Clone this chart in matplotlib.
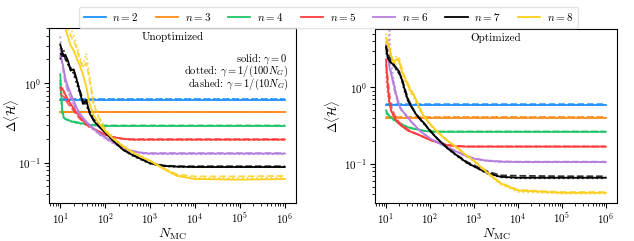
import matplotlib
matplotlib.use('Agg')
import matplotlib.pyplot as plt
from matplotlib.lines import Line2D

# serif look with computer modern maths
plt.rcParams['font.family'] = 'serif'
plt.rcParams['font.serif'] = ['cmr10', 'DejaVu Serif']
plt.rcParams['mathtext.fontset'] = 'cm'
plt.rcParams['axes.formatter.use_mathtext'] = True
plt.rcParams['axes.unicode_minus'] = False

# number of Monte Carlo samples (shared x grid for every curve)
nmc = [10, 11, 12, 13, 15, 17, 20, 23, 27, 32, 38, 45, 55, 70, 100,
       150, 250, 400, 700, 1000, 2000, 4000, 1e4, 1e5, 1e6]

n_values = [2, 3, 4, 5, 6, 7, 8]
colors = ['#1E90FF', '#FF8C1A', '#22C468', '#FF3B3B', '#B57EDC', 'black', '#FCCF1E']

# ---- Unoptimized panel ----
unopt_solid = {
    2: [0.625]*25,
    3: [0.43]*25,
    4: [1.3, 0.48, 0.37, 0.355, 0.345, 0.335, 0.325, 0.32, 0.315, 0.31, 0.305, 0.3, 0.297,
        0.293, 0.29, 0.29, 0.29, 0.29, 0.29, 0.29, 0.29, 0.29, 0.29, 0.29, 0.29],
    5: [0.88, 0.85, 0.8, 0.72, 0.62, 0.55, 0.48, 0.43, 0.38, 0.34, 0.31, 0.29, 0.27, 0.25,
        0.225, 0.21, 0.2, 0.195, 0.195, 0.195, 0.195, 0.195, 0.195, 0.195, 0.195],
    6: [2.2, 1.9, 1.5, 1.15, 0.9, 0.75, 0.6, 0.5, 0.42, 0.37, 0.33, 0.3, 0.27, 0.24, 0.21,
        0.18, 0.155, 0.14, 0.132, 0.13, 0.13, 0.13, 0.13, 0.13, 0.13],
    7: [3.1, 2.5, 2.2, 2.3, 1.9, 1.45, 1.5, 1.15, 0.8, 0.55, 0.62, 0.42, 0.34, 0.29, 0.24,
        0.19, 0.145, 0.125, 0.108, 0.098, 0.091, 0.089, 0.088, 0.088, 0.088],
    8: [7.0, 6.5, 5.8, 5.0, 3.8, 3.0, 2.6, 2.1, 1.7, 1.3, 0.9, 0.55, 0.4, 0.32, 0.25, 0.2,
        0.16, 0.135, 0.115, 0.105, 0.083, 0.068, 0.062, 0.061, 0.062],
}
unopt_dotted = {
    2: [0.63]*25,
    3: [0.435]*25,
    4: [1.0, 0.42, 0.36, 0.35, 0.34, 0.33, 0.32, 0.315, 0.31, 0.305, 0.3, 0.298, 0.295,
        0.29, 0.29, 0.29, 0.29, 0.29, 0.29, 0.29, 0.29, 0.29, 0.29, 0.29, 0.29],
    5: [0.8, 0.9, 0.75, 0.65, 0.58, 0.52, 0.47, 0.42, 0.37, 0.33, 0.3, 0.28, 0.265, 0.245,
        0.222, 0.208, 0.198, 0.193, 0.193, 0.193, 0.193, 0.193, 0.193, 0.193, 0.193],
    6: [3.9, 2.0, 1.4, 1.05, 0.8, 0.65, 0.52, 0.45, 0.4, 0.36, 0.32, 0.29, 0.26, 0.23, 0.2,
        0.175, 0.15, 0.137, 0.13, 0.128, 0.128, 0.128, 0.128, 0.128, 0.128],
    7: [2.0, 2.8, 2.6, 2.1, 1.7, 1.6, 1.3, 1.0, 0.75, 0.6, 0.52, 0.44, 0.36, 0.3, 0.24,
        0.19, 0.145, 0.123, 0.106, 0.097, 0.09, 0.088, 0.088, 0.088, 0.088],
    8: [9.0, 9.0, 8.0, 7.0, 7.0, 5.0, 4.0, 3.0, 2.2, 1.6, 2.4, 1.2, 0.6, 0.4, 0.27, 0.21,
        0.165, 0.137, 0.117, 0.106, 0.084, 0.069, 0.064, 0.064, 0.065],
}
unopt_dashed = {
    2: [0.635]*25,
    3: [0.44]*25,
    4: [1.1, 0.45, 0.37, 0.355, 0.345, 0.335, 0.33, 0.325, 0.32, 0.315, 0.31, 0.305, 0.3,
        0.297, 0.295, 0.295, 0.295, 0.295, 0.295, 0.295, 0.295, 0.295, 0.295, 0.295, 0.295],
    5: [0.75, 0.7, 0.68, 0.62, 0.55, 0.5, 0.45, 0.4, 0.36, 0.33, 0.3, 0.28, 0.265, 0.248,
        0.226, 0.21, 0.2, 0.198, 0.198, 0.198, 0.198, 0.198, 0.198, 0.198, 0.198],
    6: [2.8, 1.8, 1.3, 1.0, 0.78, 0.66, 0.54, 0.46, 0.4, 0.36, 0.32, 0.29, 0.265, 0.235,
        0.205, 0.178, 0.153, 0.14, 0.133, 0.132, 0.132, 0.132, 0.132, 0.132, 0.132],
    7: [2.4, 2.2, 2.4, 2.0, 1.8, 1.5, 1.4, 1.1, 0.85, 0.6, 0.55, 0.44, 0.35, 0.3, 0.24,
        0.19, 0.147, 0.126, 0.109, 0.099, 0.092, 0.09, 0.09, 0.09, 0.09],
    8: [8.0, 7.0, 6.0, 6.5, 5.0, 4.0, 3.4, 2.8, 2.0, 1.6, 1.8, 1.1, 0.55, 0.38, 0.26, 0.205,
        0.162, 0.136, 0.116, 0.106, 0.085, 0.071, 0.067, 0.067, 0.068],
}

# ---- Optimized panel ----
opt_solid = {
    2: [0.585]*25,
    3: [0.40]*25,
    4: [0.5, 0.45, 0.42, 0.4, 0.38, 0.36, 0.34, 0.325, 0.31, 0.3, 0.29, 0.285, 0.28, 0.27,
        0.265, 0.262, 0.262, 0.262, 0.262, 0.262, 0.262, 0.262, 0.262, 0.262, 0.262],
    5: [2.3, 1.0, 0.62, 0.5, 0.42, 0.37, 0.33, 0.31, 0.29, 0.27, 0.26, 0.25, 0.24, 0.225,
        0.205, 0.19, 0.175, 0.17, 0.168, 0.168, 0.168, 0.168, 0.168, 0.168, 0.168],
    6: [3.6, 2.4, 1.8, 1.5, 1.1, 0.8, 0.58, 0.5, 0.45, 0.4, 0.35, 0.32, 0.28, 0.25, 0.215,
        0.19, 0.165, 0.145, 0.125, 0.117, 0.11, 0.107, 0.106, 0.106, 0.106],
    7: [3.3, 2.4, 2.2, 2.1, 1.95, 1.8, 1.6, 1.25, 0.9, 0.66, 0.55, 0.47, 0.4, 0.35, 0.27,
        0.21, 0.16, 0.13, 0.103, 0.093, 0.076, 0.068, 0.066, 0.066, 0.066],
    8: [4.4, 3.8, 3.2, 2.6, 2.1, 2.3, 2.2, 1.6, 1.3, 1.05, 0.85, 0.75, 0.56, 0.43, 0.33,
        0.26, 0.2, 0.165, 0.127, 0.11, 0.077, 0.056, 0.045, 0.042, 0.042],
}
opt_dotted = {
    2: [0.59]*25,
    3: [0.405]*25,
    4: [0.46, 0.43, 0.41, 0.39, 0.37, 0.355, 0.34, 0.325, 0.31, 0.3, 0.29, 0.285, 0.278,
        0.27, 0.265, 0.262, 0.262, 0.262, 0.262, 0.262, 0.262, 0.262, 0.262, 0.262, 0.262],
    5: [1.6, 0.8, 0.6, 0.5, 0.42, 0.37, 0.33, 0.31, 0.29, 0.275, 0.262, 0.25, 0.24, 0.225,
        0.205, 0.19, 0.176, 0.17, 0.168, 0.168, 0.168, 0.168, 0.168, 0.168, 0.168],
    6: [4.0, 3.0, 5.5, 2.2, 1.2, 0.85, 0.6, 0.5, 0.44, 0.4, 0.35, 0.32, 0.28, 0.25, 0.213,
        0.188, 0.163, 0.143, 0.124, 0.116, 0.109, 0.106, 0.105, 0.105, 0.105],
    7: [2.8, 2.5, 2.3, 2.0, 1.9, 1.7, 1.5, 1.2, 0.85, 0.65, 0.56, 0.47, 0.4, 0.34, 0.27,
        0.21, 0.158, 0.128, 0.102, 0.092, 0.075, 0.067, 0.065, 0.065, 0.065],
    8: [5.0, 4.2, 3.5, 2.8, 2.0, 2.6, 2.0, 1.5, 1.2, 1.0, 0.8, 0.7, 0.54, 0.42, 0.32, 0.255,
        0.198, 0.162, 0.125, 0.108, 0.075, 0.054, 0.043, 0.041, 0.041],
}
opt_dashed = {
    2: [0.60]*25,
    3: [0.41]*25,
    4: [0.48, 0.44, 0.42, 0.4, 0.38, 0.36, 0.345, 0.33, 0.315, 0.305, 0.295, 0.288, 0.282,
        0.272, 0.267, 0.265, 0.265, 0.265, 0.265, 0.265, 0.265, 0.265, 0.265, 0.265, 0.265],
    5: [2.0, 1.3, 0.8, 0.58, 0.46, 0.4, 0.35, 0.32, 0.3, 0.28, 0.265, 0.252, 0.242, 0.227,
        0.207, 0.192, 0.177, 0.171, 0.169, 0.169, 0.169, 0.169, 0.169, 0.169, 0.169],
    6: [3.0, 2.6, 2.0, 1.6, 1.0, 0.75, 0.56, 0.49, 0.44, 0.39, 0.35, 0.32, 0.28, 0.25, 0.216,
        0.19, 0.166, 0.146, 0.127, 0.118, 0.111, 0.108, 0.107, 0.107, 0.107],
    7: [3.5, 2.8, 2.5, 2.2, 2.0, 1.7, 1.5, 1.3, 0.95, 0.7, 0.57, 0.48, 0.41, 0.35, 0.275,
        0.212, 0.162, 0.132, 0.106, 0.096, 0.08, 0.071, 0.07, 0.069, 0.069],
    8: [4.0, 3.5, 3.0, 2.4, 2.2, 2.0, 2.4, 1.7, 1.35, 1.1, 0.9, 0.77, 0.58, 0.44, 0.335,
        0.262, 0.202, 0.166, 0.128, 0.111, 0.078, 0.057, 0.046, 0.043, 0.043],
}

fig = plt.figure(figsize=(6.34, 2.41), dpi=100)
ax1 = fig.add_axes([0.0773, 0.158, 0.3896, 0.726])
ax2 = fig.add_axes([0.5915, 0.158, 0.3815, 0.722])

panels = [(ax1, unopt_solid, unopt_dotted, unopt_dashed, 'Unoptimized', -0.115),
          (ax2, opt_solid, opt_dotted, opt_dashed, 'Optimized', -0.135)]

for ax, solid, dotted, dashed, title, ylab_x in panels:
    for n, c in zip(n_values, colors):
        ax.plot(nmc, dotted[n], ls=':', color=c, lw=1.3, alpha=0.8)
        ax.plot(nmc, dashed[n], ls='--', color=c, lw=1.3, alpha=0.8)
        ax.plot(nmc, solid[n], ls='-', color=c, lw=1.3)
    ax.set_xscale('log')
    ax.set_yscale('log')
    ax.set_xlabel(r'$N_{\mathrm{MC}}$', fontsize=10, labelpad=0)
    ax.set_ylabel(r'$\Delta\langle\mathcal{H}\rangle$', fontsize=9)
    ax.yaxis.set_label_coords(ylab_x, 0.5)
    ax.tick_params(labelsize=8, pad=2.5)
    ax.text(0.5, 0.975, title, transform=ax.transAxes, ha='center', va='top', fontsize=8)

ax1.set_ylim(0.031, 5.0)
ax2.set_ylim(0.031, 5.75)

# which line style means which gamma
gamma_notes = ['solid: $\\gamma=0$', 'dotted: $\\gamma=1/(100N_G)$', 'dashed: $\\gamma=1/(10N_G)$']
for k, note in enumerate(gamma_notes):
    ax1.text(0.968, 0.825 - 0.073 * k, note, transform=ax1.transAxes,
             ha='right', va='center', fontsize=7.6)

# one legend on top for both panels
handles = [Line2D([], [], color=c, lw=1.3) for c in colors]
labels = ['$n=%d$' % n for n in n_values]
fig.legend(handles, labels, loc='upper center', bbox_to_anchor=(0.518, 0.995), ncol=7,
           fontsize=8, handlelength=2.0, columnspacing=1.55, handletextpad=0.6,
           borderpad=0.4, frameon=True, edgecolor='#dddddd')

fig.savefig('out.png', dpi=100)
